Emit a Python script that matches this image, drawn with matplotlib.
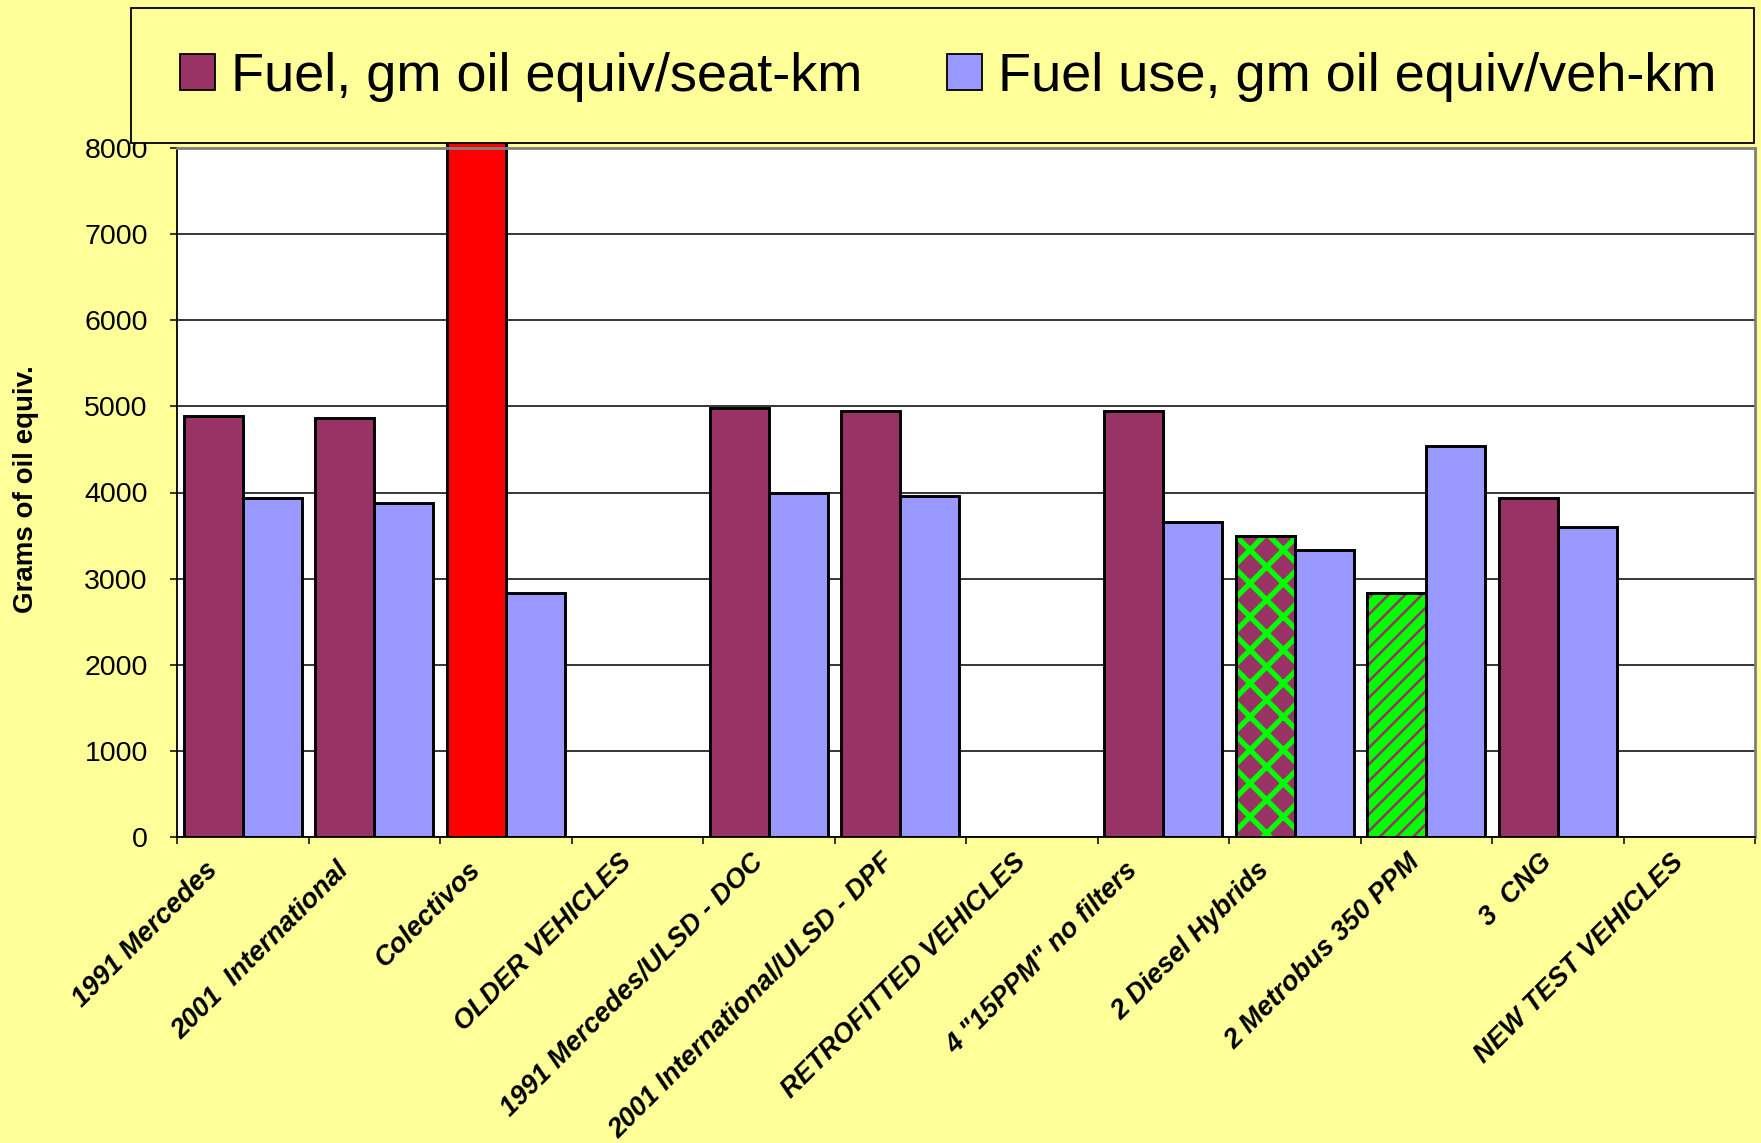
import numpy as np
import matplotlib
matplotlib.use("Agg")
import matplotlib.pyplot as plt
from matplotlib.patches import Rectangle
from matplotlib.transforms import ScaledTranslation

plt.rcParams["font.family"] = ["Liberation Sans", "DejaVu Sans"]

# ---- data -------------------------------------------------------------
categories = [
    "1991 Mercedes", "2001  International", "Colectivos", "OLDER VEHICLES",
    "1991 Mercedes/ULSD - DOC", "2001 International/ULSD - DPF",
    "RETROFITTED VEHICLES", '4 "15PPM" no filters', "2 Diesel Hybrids",
    "2 Metrobus 350 PPM", "3  CNG", "NEW TEST VEHICLES",
]
nan = np.nan
seat_km = [4890, 4870, 9000, nan, 4980, 4950, nan, 4950, 3490, 2830, 3940, nan]
veh_km = [3940, 3880, 2830, nan, 3990, 3960, nan, 3660, 3330, 4540, 3600, nan]
series_names = ["Fuel, gm oil equiv/seat-km", "Fuel use, gm oil equiv/veh-km"]
y_ticks = [0, 1000, 2000, 3000, 4000, 5000, 6000, 7000, 8000]

# ---- styles -----------------------------------------------------------
BG = "#FFFF99"
MAROON = "#993366"
BLUE = "#9999FF"
RED = "#FF0000"
GREEN = "#00FF00"
EDGE_LW = 2.1

# bars with their own fill: (face colour, hatch, hatch colour, hatch width)
special_fill = {
    "Colectivos": (RED, None, None, None),
    "2 Diesel Hybrids": (MAROON, "x", GREEN, 3.8),
    "2 Metrobus 350 PPM": (GREEN, "//", MAROON, 1.8),
}

W, H, DPI = 1761, 1143, 100
fig = plt.figure(figsize=(W / DPI, H / DPI), dpi=DPI, facecolor=BG)

# plot area in pixels
L, R, T, B = 177, 1755, 148, 837
ax = fig.add_axes([L / W, 1 - B / H, (R - L) / W, (B - T) / H])
ax.set_facecolor("white")
ax.set_axisbelow(True)

x = np.arange(len(categories))
bw = 0.45

seat_colors = [special_fill.get(c, (MAROON,))[0] for c in categories]
seat_bars = ax.bar(x - bw / 2, seat_km, bw, color=seat_colors,
                   edgecolor="black", linewidth=EDGE_LW, zorder=2)
veh_bars = ax.bar(x + bw / 2, veh_km, bw, color=BLUE,
                  edgecolor="black", linewidth=EDGE_LW, zorder=2)

# tall Colectivos bar runs up beneath the legend panel (clipped only at the bottom)
for i, c in enumerate(categories):
    if c == "Colectivos":
        p = seat_bars.patches[i]
        clip = Rectangle((0, 0), 1, 2, transform=ax.transAxes, visible=False)
        ax.add_artist(clip)
        p.set_clip_path(clip)

# patterned bars: pattern layer, then the black outline on top
for i, c in enumerate(categories):
    face, hatch, hcol, hlw = special_fill.get(c, (None, None, None, None))
    if hatch is None:
        continue
    with plt.rc_context({"hatch.linewidth": hlw}):
        pat = ax.bar(x[i] - bw / 2, seat_km[i], bw, color=face, edgecolor=hcol,
                     linewidth=0, hatch=hatch, zorder=3)
        for p in pat.patches:
            if hasattr(p, "set_hatch_linewidth"):
                p.set_hatch_linewidth(hlw)
    ax.bar(x[i] - bw / 2, seat_km[i], bw, fill=False, edgecolor="black",
           linewidth=EDGE_LW, zorder=4)

# axes, grid, ticks
ax.set_xlim(-0.5, len(categories) - 0.5)
ax.set_ylim(0, 8000)
ax.set_yticks(y_ticks)
ax.set_yticklabels([str(v) for v in y_ticks], fontsize=20.5)
ax.yaxis.grid(True, color="black", linewidth=1.1)
ax.tick_params(axis="y", direction="out", length=5, width=1.1, pad=16)

ax.set_xticks(x)
ax.set_xticks(np.arange(-0.5, len(categories), 1.0), minor=True)
ax.tick_params(axis="x", which="major", length=0, pad=0)
ax.tick_params(axis="x", which="minor", direction="out", length=5, width=1.1)
ax.set_xticklabels(categories, fontsize=19.5, fontweight="bold", style="italic",
                   rotation=45, ha="right", va="top", rotation_mode="anchor")
for lab in ax.get_xticklabels():
    txt = lab.get_text()
    # labels that end in a lower-case letter sit a little further down-left
    if txt and txt[-1].islower():
        dx, dy = -38, -20
    else:
        dx, dy = -19, -12
    lab.set_transform(lab.get_transform()
                      + ScaledTranslation(dx / DPI, dy / DPI, fig.dpi_scale_trans))

for side in ("left", "bottom"):
    ax.spines[side].set_color("black")
    ax.spines[side].set_linewidth(1.3)
for side in ("top", "right"):
    ax.spines[side].set_color("#808080")
    ax.spines[side].set_linewidth(2.0)

ax.set_ylabel("Grams of oil equiv.", fontsize=20, fontweight="bold")
ax.yaxis.set_label_coords((26 - L) / (R - L), (B - 489) / (B - T))
ax.yaxis.label.set_verticalalignment("center")

# legend panel across the top
panel = Rectangle((131 / W, 1 - 143 / H), (1754 - 131) / W, (143 - 8) / H,
                  transform=fig.transFigure, facecolor=BG, edgecolor="black",
                  linewidth=1.3, zorder=4)
fig.add_artist(panel)
leg = fig.legend([seat_bars.patches[0], veh_bars.patches[0]], series_names,
                 loc="center left", bbox_to_anchor=(180 / W, 1 - 77 / H),
                 bbox_transform=fig.transFigure, ncol=2, frameon=False,
                 fontsize=39, handlelength=0.65, handleheight=0.65,
                 handletextpad=0.3, columnspacing=1.55, borderpad=0,
                 borderaxespad=0)
leg.set_zorder(5)
for h in leg.legend_handles:
    h.set_linewidth(1.3)

fig.savefig("out.png", dpi=DPI, facecolor=BG)
